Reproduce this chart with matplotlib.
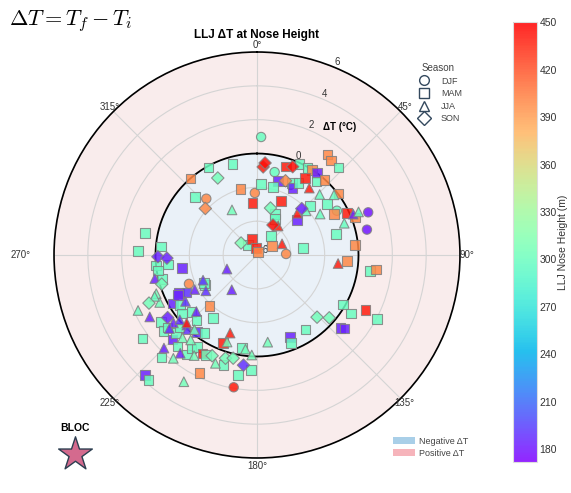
import matplotlib
matplotlib.use('Agg')
import matplotlib.pyplot as plt
import numpy as np
from matplotlib.lines import Line2D
from matplotlib.patches import Patch
from matplotlib.colors import Normalize

plt.rcParams['font.family'] = ['Liberation Sans', 'DejaVu Sans']
plt.rcParams['mathtext.fontset'] = 'cm'

# wind direction (deg), delta T (degC), LLJ nose height (m) per season
djf_dir = [12, 358, 318, 61, 69, 77, 88, 247, 190, 2]
djf_dt = [-0.99, -2.33, -1.52, -0.60, 1.04, 0.67, -4.28, -1.63, 1.94, 0.98]
djf_h = [300, 400, 400, 300, 180, 180, 400, 400, 440, 300]

mam_dir = [35, 38, 43, 345, 331, 319, 18, 25, 30, 33, 36, 16, 26, 28, 30, 32, 39, 42, 13, 3,
           346, 313, 355, 24, 53, 47, 54, 62, 65, 69, 75, 84, 24, 49, 27, 36, 59, 81, 318, 343,
           352, 18, 94, 98, 97, 281, 272, 275, 264, 264, 260, 256, 240, 223, 215, 120, 122, 117, 118, 131,
           130, 147, 158, 159, 201, 189, 234, 242, 244, 242, 240, 237, 229, 235, 231, 225, 232, 226, 218, 214,
           231, 227, 223, 221, 223, 215, 215, 213, 209, 207, 197, 206, 223, 221, 189, 183, 261, 243]
mam_dt = [1.25, 1.08, 1.08, -0.43, -0.09, -0.01, -0.51, -0.05, -0.04, 0.00, 0.01, -1.45, -1.26, -1.53, -1.10, -0.63, -0.41, -0.05, -1.86, -1.79,
          -1.96, -0.98, -2.91, -2.50, 0.04, -1.73, -0.88, -0.84, -0.12, 0.20, -1.17, -0.17, -3.35, -2.85, -3.62, -4.60, -4.96, -3.25, -5.20, -5.01,
          -5.58, -5.81, -0.66, 0.75, 1.09, 0.75, 1.05, -0.30, 0.01, -0.70, -1.50, -0.20, -2.45, -1.89, -1.45, -0.14, 0.54, 1.20, 2.02, 0.55,
          0.76, -0.75, -0.77, -0.44, -0.42, -0.43, 2.38, -2.46, -0.86, -1.29, -0.28, -0.57, -0.88, 0.93, 1.12, 1.07, -0.39, 0.65, -0.22, -0.46,
          0.82, 0.28, -0.76, 1.18, 2.29, 1.19, 0.76, 0.50, 0.65, 0.62, 0.79, 1.78, 3.71, 3.77, 1.19, 0.81, -0.08, -0.76]
mam_h = [400, 400, 300, 300, 300, 400, 440, 300, 300, 400, 185, 185, 300, 185, 300, 440, 300, 400, 300, 300,
         400, 300, 440, 440, 400, 300, 300, 400, 440, 400, 300, 400, 300, 185, 300, 300, 400, 300, 300, 440,
         440, 400, 400, 300, 400, 300, 300, 300, 300, 300, 185, 300, 300, 400, 300, 300, 300, 440, 300, 185,
         185, 300, 185, 300, 440, 300, 300, 300, 185, 190, 185, 300, 300, 300, 300, 185, 300, 300, 190, 300,
         300, 300, 300, 300, 300, 300, 300, 300, 440, 300, 300, 400, 185, 300, 300, 300, 300, 185]

jja_dir = [331, 38, 46, 52, 44, 48, 57, 67, 67, 70, 36, 66, 96, 245, 216, 245, 245, 240, 173, 199,
           199, 187, 183, 241, 235, 249, 244, 248, 237, 227, 231, 230, 225, 223, 230, 220, 222, 218, 226, 225,
           218, 219, 212, 201, 210, 257]
jja_dt = [-2.95, -0.98, -0.85, -0.22, -2.57, -2.10, -1.55, 0.18, 0.52, -0.51, -3.88, -4.38, -1.18, -4.04, -3.46, -2.48, 1.76, 1.32, -0.81, -1.12,
          -0.56, -0.39, -0.08, -1.79, -2.31, 0.38, 0.40, 0.53, -0.96, -1.10, 0.36, -0.04, -0.14, 0.03, 0.76, -0.24, 0.58, 0.37, -0.22, 1.78,
          1.37, 1.86, 1.01, 0.86, 2.65, 0.20]
jja_h = [305, 440, 300, 300, 440, 300, 300, 185, 300, 300, 440, 440, 440, 185, 185, 190, 300, 185, 305, 440,
         305, 305, 305, 185, 190, 305, 305, 300, 190, 185, 185, 190, 185, 190, 185, 305, 305, 305, 440, 185,
         185, 305, 305, 305, 305, 185]

son_dir = [333, 4, 5, 22, 21, 312, 44, 16, 28, 307, 269, 268, 246, 136, 131, 235, 204, 197, 193, 187, 253]
son_dt = [-0.89, -0.78, -0.54, -0.37, -1.30, -1.89, -2.19, -3.11, -3.99, -4.82, -0.14, -0.67, 0.99, -0.89, -0.34, 0.45, 0.52, 0.38, 0.26, 0.56, -0.11]
son_h = [305, 440, 445, 445, 400, 400, 185, 305, 445, 310, 185, 185, 305, 305, 305, 185, 305, 305, 305, 190, 305]

SEASONS = ['DJF', 'MAM', 'JJA', 'SON']
MARKERS = ['o', 's', '^', 'D']
SIZES = [45, 48, 48, 40]
THETA_LABELS = [0, 45, 90, 135, 180, 225, 270, 315]
LABEL_R = [6.4, 6.35, 6.4, 6.35, 6.45, 6.35, 8.0, 6.35]

fig = plt.figure(figsize=(5.71, 4.93), dpi=100)
ax = fig.add_axes([0.0946, 0.071, 0.711, 0.8235], projection='polar')
ax.set_theta_zero_location('N')
ax.set_theta_direction(-1)
ax.set_facecolor('#f9ecec')
ax.set_ylim(-6, 6)
ax.set_yticks(np.arange(-6, 7, 2))
ax.set_rlabel_position(22.5)
ax.set_thetagrids(THETA_LABELS, labels=[''] * len(THETA_LABELS))
ax.tick_params(labelsize=7, colors='#333333')
ax.grid(True, color='#d4d4d4', linewidth=0.8)
ax.spines['polar'].set_color('black')
ax.spines['polar'].set_linewidth(1.2)
for a, r in zip(THETA_LABELS, LABEL_R):
    ax.text(np.radians(a), r, f'{a}°', fontsize=7, color='#333333', ha='center', va='center', clip_on=False)

full = np.linspace(0, 2 * np.pi, 361)
ax.fill_between(full, -6, 0, color='#eaf1f8', linewidth=0, zorder=0)
ax.plot(full, np.zeros_like(full), color='black', linewidth=1.3, zorder=2)

cmap = plt.get_cmap('rainbow')
norm = Normalize(vmin=172, vmax=450)
data = [(djf_dir, djf_dt, djf_h), (mam_dir, mam_dt, mam_h),
        (jja_dir, jja_dt, jja_h), (son_dir, son_dt, son_h)]
for (d, t, h), m, s in zip(data, MARKERS, SIZES):
    ax.scatter(np.radians(d), t, c=h, cmap=cmap, norm=norm, marker=m, s=s,
               edgecolors='#808080', linewidths=0.8, alpha=0.85, zorder=3)

ax.text(np.radians(33), 3.0, 'ΔT (°C)', fontsize=7, fontweight='bold', ha='center', va='center')

fig.text(0.45, 0.929, 'LLJ ΔT at Nose Height', fontsize=8.5, fontweight='bold', ha='center', va='center')
fig.text(0.016, 0.957, r'$\Delta T = T_f - T_i$', fontsize=16, ha='left', va='center')

# season legend
handles = [Line2D([], [], marker=m, linestyle='none', markerfacecolor='none',
                  markeredgecolor='#34495e', markeredgewidth=1.0, markersize=7, label=s)
           for m, s in zip(MARKERS, SEASONS)]
leg = fig.legend(handles=handles, title='Season', loc='upper right', bbox_to_anchor=(0.82, 0.885),
                 frameon=False, fontsize=6.5, title_fontsize=7, labelspacing=0.4, handletextpad=0.9,
                 borderpad=0.2)
for txt in leg.get_texts():
    txt.set_color('#444444')
leg.get_title().set_color('#444444')

patches = [Patch(facecolor='#a9cfe8', label='Negative ΔT'), Patch(facecolor='#f6b4bb', label='Positive ΔT')]
leg2 = fig.legend(handles=patches, loc='lower right', bbox_to_anchor=(0.835, 0.055), frameon=False,
                  fontsize=6.5, handlelength=2.4, handleheight=0.8, labelspacing=0.3, handletextpad=0.5)
for txt in leg2.get_texts():
    txt.set_color('#444444')

# BLOC marker
fig.text(0.131, 0.132, 'BLOC', fontsize=7.5, fontweight='bold', ha='center', va='center')
ax.scatter([0.131], [0.08], transform=fig.transFigure, marker='*', s=650, c='#d46a8e',
           edgecolors='#2c3e50', linewidths=1.0, clip_on=False, zorder=5)

cax = fig.add_axes([0.898, 0.063, 0.042, 0.892])
sm = plt.cm.ScalarMappable(norm=norm, cmap=cmap)
cb = fig.colorbar(sm, cax=cax, alpha=0.85)
cb.set_ticks(np.arange(180, 451, 30))
cb.ax.tick_params(labelsize=7.5, length=0, colors='#333333', pad=2)
cb.outline.set_edgecolor('#dddddd')
cb.set_label('LLJ Nose Height (m)', fontsize=7.5, color='#333333', labelpad=1)

fig.savefig('out.png', dpi=100)
